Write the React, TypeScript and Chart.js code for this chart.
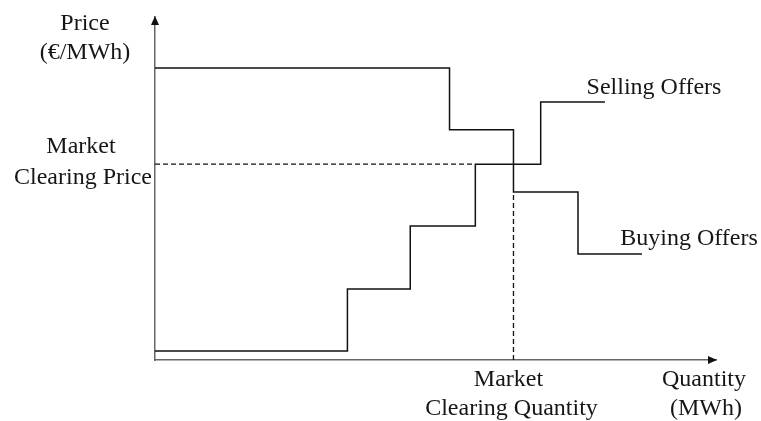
import React, { useEffect, useRef } from "react";
import { Chart, registerables } from "chart.js";

Chart.register(...registerables);

// Step curves (quantity, price) in arbitrary units 0..100
const sellingQty = [0, 34.3, 45.5, 57.1, 68.75, 80.2];
const sellingPrice = [2.6, 20.7, 39.1, 57.1, 75.2, 75.2];
const buyingQty = [0, 52.5, 63.9, 75.4, 86.8];
const buyingPrice = [85.1, 67.1, 49.0, 30.9, 30.9];
const clearingQty = 63.9;
const clearingPrice = 57.1;
const clearingPriceLineEnd = 57.1;
const clearingQtyLineTop = 49.0;

const FONT = '24px "Liberation Serif", "Times New Roman", serif';
const TEXT_COLOR = "#161616";

const toPts = (xs: number[], ys: number[]) => xs.map((x, i) => ({ x, y: ys[i] }));

const annotationPlugin = {
  id: "annot",
  afterDraw(chart: any) {
    const { ctx, chartArea, scales } = chart;
    const xs = scales.x;
    const ys = scales.y;
    ctx.save();
    // arrowheads
    ctx.fillStyle = "#111";
    const left = chartArea.left;
    const top = chartArea.top;
    const right = chartArea.right;
    const bottom = chartArea.bottom;
    ctx.beginPath();
    ctx.moveTo(left, top - 1);
    ctx.lineTo(left - 4, top + 8);
    ctx.lineTo(left + 4, top + 8);
    ctx.closePath();
    ctx.fill();
    ctx.beginPath();
    ctx.moveTo(right + 1, bottom);
    ctx.lineTo(right - 8, bottom - 4);
    ctx.lineTo(right - 8, bottom + 4);
    ctx.closePath();
    ctx.fill();

    // texts
    ctx.font = FONT;
    ctx.fillStyle = TEXT_COLOR;
    ctx.textAlign = "center";
    ctx.textBaseline = "alphabetic";
    const yCP = ys.getPixelForValue(clearingPrice);
    const xCQ = xs.getPixelForValue(clearingQty);
    const axisY = ys.getPixelForValue(0);
    // y-axis title
    ctx.fillText("Price", 85, 30);
    ctx.fillText("(€/MWh)", 85, 59);
    // clearing price label
    ctx.fillText("Market", 81, yCP - 11);
    ctx.fillText("Clearing Price", 83, yCP + 20);
    // series labels
    ctx.fillText("Selling Offers", 654, ys.getPixelForValue(sellingPrice[sellingPrice.length - 1]) - 8);
    ctx.fillText("Buying Offers", 689, ys.getPixelForValue(buyingPrice[buyingPrice.length - 1]) - 9);
    // clearing quantity label
    ctx.fillText("Market", xCQ - 5, axisY + 26);
    ctx.fillText("Clearing Quantity", xCQ - 2, axisY + 55);
    // x-axis title
    ctx.fillText("Quantity", 704, axisY + 26);
    ctx.fillText("(MWh)", 706, axisY + 55);
    ctx.restore();
  },
};

export default function App() {
  const ref = useRef<HTMLCanvasElement | null>(null);
  useEffect(() => {
    if (!ref.current) return;
    const chart = new Chart(ref.current, {
      type: "line",
      data: {
        datasets: [
          {
            label: "Selling Offers",
            data: toPts(sellingQty, sellingPrice),
            stepped: "before",
            borderColor: "#111",
            borderWidth: 1.5,
            pointRadius: 0,
            fill: false,
          },
          {
            label: "Buying Offers",
            data: toPts(buyingQty, buyingPrice),
            stepped: "before",
            borderColor: "#111",
            borderWidth: 1.5,
            pointRadius: 0,
            fill: false,
          },
          {
            label: "Clearing price",
            data: [
              { x: 0, y: clearingPrice },
              { x: clearingPriceLineEnd, y: clearingPrice },
            ],
            borderColor: "#111",
            borderWidth: 1.3,
            borderDash: [5, 3],
            pointRadius: 0,
            fill: false,
          },
          {
            label: "Clearing quantity",
            data: [
              { x: clearingQty, y: 0 },
              { x: clearingQty, y: clearingQtyLineTop },
            ],
            borderColor: "#111",
            borderWidth: 1.3,
            borderDash: [5, 3],
            pointRadius: 0,
            fill: false,
          },
        ],
      },
      options: {
        animation: false,
        responsive: false,
        maintainAspectRatio: false,
        layout: { padding: { left: 155, right: 45, top: 17, bottom: 61 } },
        plugins: { legend: { display: false }, tooltip: { enabled: false } },
        scales: {
          x: {
            type: "linear",
            min: 0,
            max: 100,
            grid: { display: false, drawTicks: false },
            ticks: { display: false },
            border: { display: true, color: "#666", width: 1.5 },
          },
          y: {
            type: "linear",
            min: 0,
            max: 100,
            grid: { display: false, drawTicks: false },
            ticks: { display: false },
            border: { display: true, color: "#666", width: 1.5 },
          },
        },
      },
      plugins: [annotationPlugin],
    });
    return () => chart.destroy();
  }, []);
  return (
    <div style={{ position: "fixed", left: 0, top: 0, width: 761, height: 421, background: "#fff" }}>
      <canvas ref={ref} width={761} height={421} style={{ width: 761, height: 421 }} />
    </div>
  );
}
